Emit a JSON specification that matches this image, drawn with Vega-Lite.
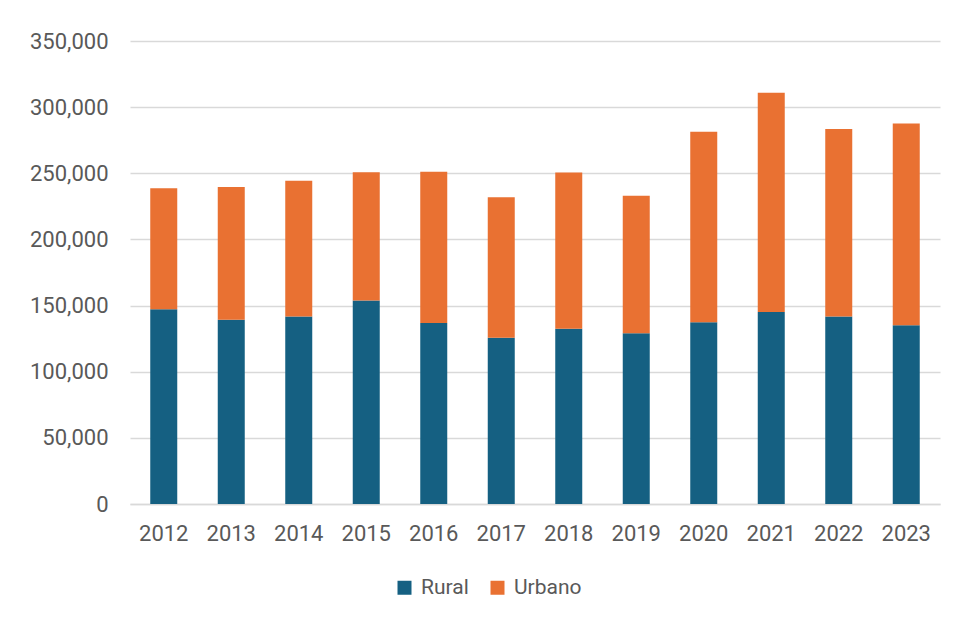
{
  "$schema": "https://vega.github.io/schema/vega-lite/v6.json",
  "width": 810,
  "height": 463,
  "autosize": {"type": "none"},
  "padding": {"left": 130, "top": 41, "right": 16, "bottom": 115},
  "background": "#ffffff",
  "config": {
    "view": {"stroke": null},
    "font": "Roboto",
    "axis": {"labelFont": "Roboto", "labelColor": "#595959", "labelFontSize": 22},
    "legend": {"labelFont": "Roboto", "labelColor": "#595959", "labelFontSize": 21}
  },
  "data": {
    "values": [
      {"year": "2012", "area": "Rural", "value": 147200},
      {"year": "2012", "area": "Urbano", "value": 91400},
      {"year": "2013", "area": "Rural", "value": 139200},
      {"year": "2013", "area": "Urbano", "value": 100450},
      {"year": "2014", "area": "Rural", "value": 141700},
      {"year": "2014", "area": "Urbano", "value": 102700},
      {"year": "2015", "area": "Rural", "value": 153800},
      {"year": "2015", "area": "Urbano", "value": 96900},
      {"year": "2016", "area": "Rural", "value": 136900},
      {"year": "2016", "area": "Urbano", "value": 114300},
      {"year": "2017", "area": "Rural", "value": 125600},
      {"year": "2017", "area": "Urbano", "value": 106200},
      {"year": "2018", "area": "Rural", "value": 132400},
      {"year": "2018", "area": "Urbano", "value": 118100},
      {"year": "2019", "area": "Rural", "value": 129100},
      {"year": "2019", "area": "Urbano", "value": 104000},
      {"year": "2020", "area": "Rural", "value": 137400},
      {"year": "2020", "area": "Urbano", "value": 144000},
      {"year": "2021", "area": "Rural", "value": 145200},
      {"year": "2021", "area": "Urbano", "value": 165700},
      {"year": "2022", "area": "Rural", "value": 141700},
      {"year": "2022", "area": "Urbano", "value": 141800},
      {"year": "2023", "area": "Rural", "value": 135100},
      {"year": "2023", "area": "Urbano", "value": 152600}
    ]
  },
  "mark": {"type": "bar", "width": 27},
  "encoding": {
    "x": {
      "field": "year",
      "type": "ordinal",
      "title": null,
      "scale": {"paddingInner": 0.6, "paddingOuter": 0.3},
      "axis": {
        "labelAngle": 0,
        "ticks": false,
        "domainColor": "#d9d9d9",
        "domainWidth": 1.5,
        "labelPadding": 19
      }
    },
    "y": {
      "field": "value",
      "type": "quantitative",
      "title": null,
      "stack": "zero",
      "scale": {"domain": [0, 350000], "nice": false},
      "axis": {
        "values": [0, 50000, 100000, 150000, 200000, 250000, 300000, 350000],
        "format": ",d",
        "domain": false,
        "ticks": false,
        "gridColor": "#d9d9d9",
        "gridWidth": 1.5,
        "labelPadding": 22
      }
    },
    "color": {
      "field": "area",
      "type": "nominal",
      "title": null,
      "scale": {"domain": ["Rural", "Urbano"], "range": ["#156082", "#E97132"]},
      "legend": {
        "orient": "none",
        "direction": "horizontal",
        "legendX": 264,
        "legendY": 536,
        "symbolType": "square",
        "symbolSize": 196,
        "symbolStrokeWidth": 0,
        "symbolOpacity": 1,
        "columnPadding": 18,
        "labelOffset": 6
      }
    },
    "order": {"field": "area", "sort": "ascending"}
  }
}
